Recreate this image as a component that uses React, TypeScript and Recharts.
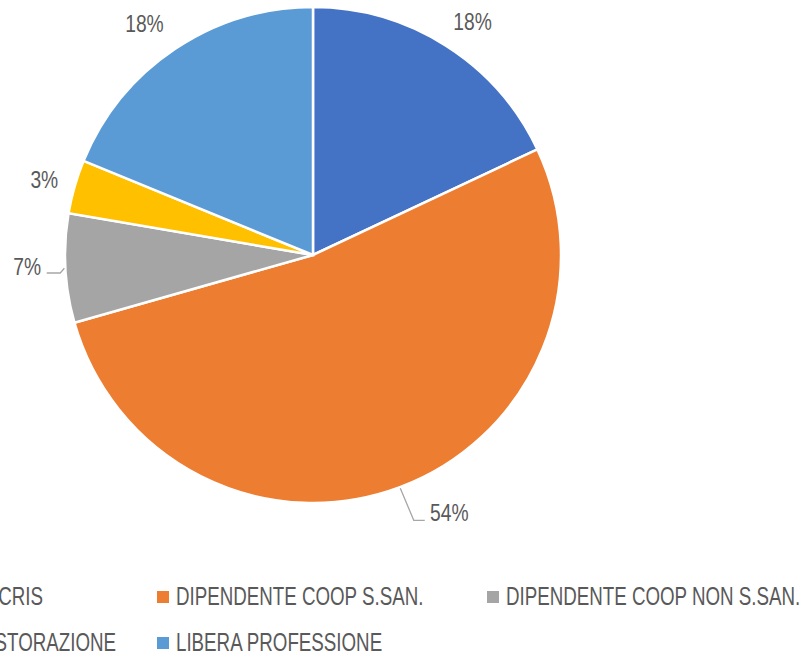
import React from "react";
import { PieChart, Pie, Cell, Legend } from "recharts";

// categories, clockwise from 12 o'clock
const categories = [
  "DIPENDENTE SOCRIS",
  "DIPENDENTE COOP S.SAN.",
  "DIPENDENTE COOP NON S.SAN.",
  "DIPENDENTE RISTORAZIONE",
  "LIBERA PROFESSIONE",
];
const shares = [18, 52.6, 7.1, 3.5, 18.8];
// data labels exactly as printed on the chart
const labelTexts = ["18%", "54%", "7%", "3%", "18%"];
const colors = ["#4472C4", "#ED7D31", "#A5A5A5", "#FFC000", "#5B9BD5"];

const data = categories.map((name, i) => ({ name, value: shares[i], label: labelTexts[i] }));

const FONT = '"Liberation Sans", Arial, sans-serif';
const TEXT = "#595959";
const RAD = Math.PI / 180;

// per-slice label placement (Excel "best fit"): angle shift deg / extra radius px
const labelTweak = [
  { da: -1.9, dr: 35 },
  { da: 7.4, dr: 43 },
  { da: -0.8, dr: 38 },
  { da: 0.4, dr: 31 },
  { da: 2.2, dr: 38.5 },
];

const polar = (cx: number, cy: number, r: number, a: number) => ({
  x: cx + r * Math.cos(a * RAD),
  y: cy - r * Math.sin(a * RAD),
});

const renderLabel = (props: any) => {
  const { cx, cy, midAngle, outerRadius, index } = props;
  const t = labelTweak[index];
  const p = polar(cx, cy, outerRadius + t.dr, midAngle + t.da);
  const s = polar(cx, cy, outerRadius + 1, midAngle);
  let leader: React.ReactNode = null;
  if (index === 1) {
    leader = (
      <polyline
        points={`${s.x},${s.y} ${p.x - 35.5},${p.y + 8.2} ${p.x - 24.5},${p.y + 8.2}`}
        fill="none"
        stroke="#A6A6A6"
        strokeWidth={1.3}
      />
    );
  }
  if (index === 2) {
    leader = (
      <polyline
        points={`${p.x + 19.5},${p.y + 6.7} ${p.x + 33},${p.y + 6.7} ${s.x},${s.y}`}
        fill="none"
        stroke="#A6A6A6"
        strokeWidth={1.3}
      />
    );
  }
  return (
    <g key={`lbl-${index}`}>
      {leader}
      <text
        transform={`translate(${p.x} ${p.y + 8.4}) scale(0.82 1)`}
        textAnchor="middle"
        fill={TEXT}
        fontFamily={FONT}
        fontSize={23.5}
      >
        {labelTexts[index]}
      </text>
    </g>
  );
};

// legend grid as drawn: column 1 is cut off by the left edge
const legendBaselines = [605, 651];
const legendSlots = [
  { row: 0, x: -200, endAt: 43 },
  { row: 0, x: 157 },
  { row: 0, x: 487 },
  { row: 1, x: -200, endAt: 116 },
  { row: 1, x: 157 },
];

const renderLegend = () => (
  <svg width={809} height={86} style={{ display: "block", overflow: "visible" }}>
    {categories.map((name, i) => {
      const slot = legendSlots[i];
      const base = legendBaselines[slot.row] - 570;
      const tx = slot.endAt !== undefined ? slot.endAt : slot.x + 19;
      return (
        <g key={name}>
          <rect x={slot.x} y={base - 14} width={12} height={12} fill={colors[i]} />
          <text
            transform={`translate(${tx} ${base}) scale(0.75 1)`}
            textAnchor={slot.endAt !== undefined ? "end" : "start"}
            fill={TEXT}
            fontFamily={FONT}
            fontSize={25}
          >
            {name}
          </text>
        </g>
      );
    })}
  </svg>
);

export default function App() {
  return (
    <div
      style={{
        position: "absolute",
        left: 0,
        top: 0,
        width: 809,
        height: 656,
        overflow: "hidden",
        background: "#fff",
      }}
    >
      <PieChart width={809} height={656} margin={{ top: 0, right: 0, bottom: 0, left: 0 }}>
        <Pie
          data={data}
          dataKey="value"
          nameKey="name"
          cx={313}
          cy={255}
          outerRadius={248}
          startAngle={90}
          endAngle={-270}
          stroke="#FFFFFF"
          strokeWidth={2.5}
          label={renderLabel}
          labelLine={false}
          isAnimationActive={false}
        >
          {data.map((d, i) => (
            <Cell key={d.name} fill={colors[i]} />
          ))}
        </Pie>
        <Legend
          content={renderLegend}
          wrapperStyle={{ position: "absolute", left: 0, top: 570, width: 809, height: 86 }}
        />
      </PieChart>
    </div>
  );
}
